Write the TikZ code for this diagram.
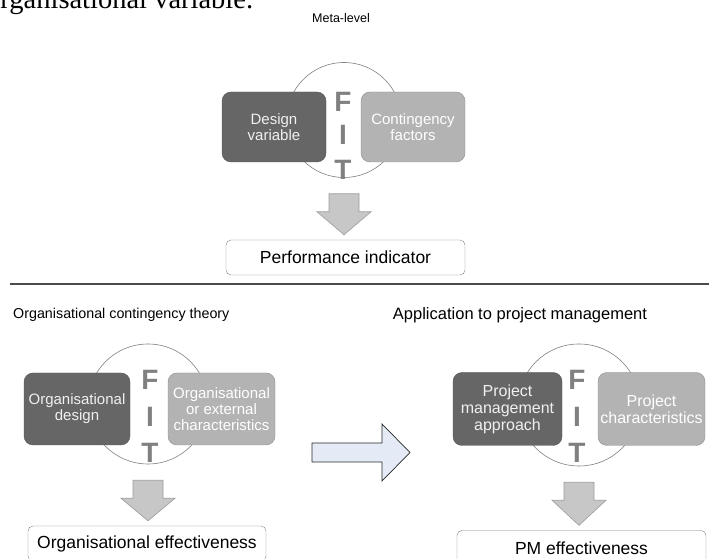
\documentclass[tikz,border=0pt]{standalone}
\usepackage{fontspec}
\setmainfont{Liberation Sans}
\newfontfamily\bodyserif{Liberation Serif}
\usepackage{tikz}
\usetikzlibrary{calc}
\definecolor{darkbox}{RGB}{102, 102, 102}
\definecolor{lightbox}{RGB}{179, 179, 179}
\definecolor{fitgrey}{RGB}{128, 128, 128}
\definecolor{arrowgrey}{RGB}{199, 199, 199}
\definecolor{paleblue}{RGB}{229, 235, 246}

% grey block arrow from a fit circle down to its result box
\newcommand{\blockdown}[2]{%
  \draw[blockarrow] let \p1=($(#1.south)+(0,-16)$), \p2=($(#2.north)+(0,5)$) in
    (\x1-15,\y1) -- (\x1+15,\y1) -- (\x1+15,\y1-18) -- (\x1+27,\y1-18)
    -- (\x1,\y2) -- (\x1-27,\y1-18) -- (\x1-15,\y1-18) -- cycle;}

\begin{document}
\begin{tikzpicture}[x=1pt, y=1pt,
  fitring/.style={draw=fitgrey, fill=white, circle, line width=0.6pt, inner sep=0pt},
  designbox/.style={draw=darkbox!85!black, fill=darkbox, rounded corners=9pt, text=white!94!black, align=center, font=\fontsize{15}{16}\selectfont, minimum width=105pt, minimum height=71pt, inner sep=1pt},
  factorbox/.style={draw=lightbox!78!black, fill=lightbox, rounded corners=9pt, text=white, align=center, font=\fontsize{15}{16}\selectfont, minimum width=105pt, minimum height=71pt, inner sep=1pt},
  fitletter/.style={text=fitgrey, font=\fontsize{28}{28}\selectfont\bfseries, inner sep=0pt},
  resultbox/.style={draw=fitgrey, fill=white, rounded corners=5pt, minimum height=35pt, font=\fontsize{17.5}{20}\selectfont},
  caption/.style={font=\fontsize{12.5}{14}\selectfont, inner sep=0pt},
  blockarrow/.style={draw=arrowgrey!78!black, fill=arrowgrey, line width=0.6pt},
  shiftarrow/.style={draw=black!85, fill=paleblue, line width=0.7pt}
]
\useasboundingbox (0,0) rectangle (709,559);

% cut text of the page above
\node[anchor=base west, inner sep=0pt, font=\bodyserif\fontsize{28.5}{30}\selectfont] (bodytext) at (-14, 550) {organisational variable.};

% Meta-level
\node[caption] (metalabel) at (341, 541) {Meta-level};
\node[fitring, minimum size=115pt] (metafit) at (344, 439) {};
\node[designbox, minimum width=104pt, minimum height=70pt] (design) at (274, 432) {Design\\variable};
\node[factorbox, minimum width=104pt, minimum height=70pt] (contingency) at (413, 432) {Contingency\\factors};
\node[fitletter] (metaF) at (343, 457) {F};
\node[fitletter] (metaI) at (343, 424) {I};
\node[fitletter] (metaT) at (343, 389) {T};
\node[resultbox, minimum width=239pt] (perf) at (345.5, 301.5) {Performance indicator};

\draw[draw=black!70, line width=1.4pt] (10, 275) -- (709, 275);

% Organisational contingency theory
\node[caption, anchor=west, font=\fontsize{14.3}{16}\selectfont] (octlabel) at (13, 244) {Organisational contingency theory};
\node[fitring, minimum size=120pt] (octfit) at (148, 155) {};
\node[designbox, minimum width=106pt, minimum height=72pt] (orgdesign) at (77, 150) {Organisational\\design};
\node[factorbox, minimum width=107pt, minimum height=72pt] (orgchar) at (221.5, 150) {Organisational\\or external\\characteristics};
\node[fitletter] (octF) at (150, 179) {F};
\node[fitletter] (octI) at (150, 142) {I};
\node[fitletter] (octT) at (150, 106) {T};
\node[resultbox, minimum width=238pt] (orgeff) at (147, 15.5) {Organisational effectiveness};

% Application to project management
\node[caption, font=\fontsize{16.5}{18}\selectfont] (pmlabel) at (520, 244) {Application to project management};
\node[fitring, minimum size=122pt] (pmfit) at (579, 154) {};
\node[designbox, minimum width=109pt, minimum height=73pt, font=\fontsize{16}{17}\selectfont] (pmapproach) at (507.5, 150) {Project\\management\\approach};
\node[factorbox, minimum width=107pt, minimum height=73pt, font=\fontsize{16}{17}\selectfont] (pmchar) at (651.5, 150) {Project\\characteristics};
\node[fitletter] (pmF) at (577, 179) {F};
\node[fitletter] (pmI) at (577, 142) {I};
\node[fitletter] (pmT) at (577, 106) {T};
\node[resultbox, minimum width=249pt] (pmeff) at (581.5, 11) {PM effectiveness};

% Connections
\blockdown{metafit}{perf}
\blockdown{octfit}{orgeff}
\blockdown{pmfit}{pmeff}
\draw[shiftarrow] (312, 97) -- (312, 116) -- (382, 116) -- (382, 135) -- (410, 106.5) -- (382, 78) -- (382, 97) -- cycle;

\end{tikzpicture}
\end{document}
